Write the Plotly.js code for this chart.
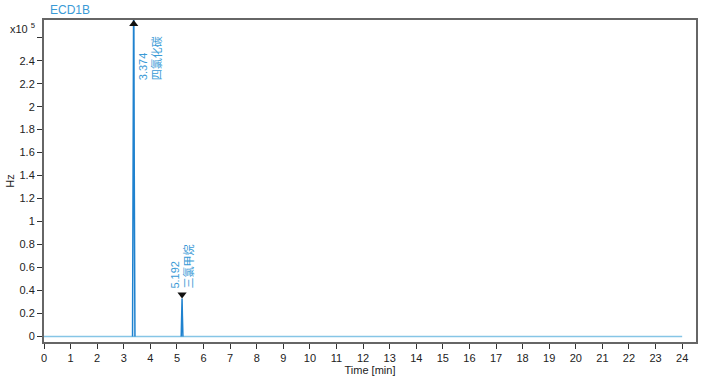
<!DOCTYPE html>
<html>
<head>
<meta charset="utf-8">
<script src="https://cdn.plot.ly/plotly-3.0.1.min.js"></script>
<style>html,body{margin:0;padding:0;background:#fff;}#chart{width:705px;height:379px;}</style>
</head>
<body>
<div id="chart"></div>
<script>
// Chromatogram samples (time in min, signal in units of 1e5 Hz)
const baseTime = [0, 3.30, 3.45, 5.15, 5.24, 24];
const baseSignal = [0, 0, 0, 0, 0, 0];
const peak1Time = [3.33, 3.355, 3.374, 3.395, 3.42];
const peak1Signal = [0, 1.4, 3.2, 1.4, 0];
const peak2Time = [5.16, 5.18, 5.192, 5.205, 5.225];
const peak2Signal = [0, 0.18, 0.33, 0.18, 0];
const peakRT = [3.374, 5.192];
const peakNames = ["四氯化碳", "三氯甲烷"];
const markerY = [2.72, 0.365];
const yTickVals = [0,0.2,0.4,0.6,0.8,1,1.2,1.4,1.6,1.8,2,2.2,2.4,2.6];
const yTickText = ["0","0.2","0.4","0.6","0.8","1","1.2","1.4","1.6","1.8","2","2.2","2.4",""];
const xTickVals = Array.from({length:25},(_, i)=>i);

const lightBlue = '#86c5e6';
const darkBlue = '#1f82cf';
const labelBlue = '#3a9ad6';

const traces = [
  {x: baseTime, y: baseSignal, mode:'lines', line:{color:lightBlue, width:1.5}, hoverinfo:'skip'},
  {x: peak1Time, y: peak1Signal, mode:'lines', line:{color:darkBlue, width:1.5}},
  {x: peak2Time, y: peak2Signal, mode:'lines', line:{color:darkBlue, width:1.5}},
  {x: [peakRT[0]], y: [markerY[0]], mode:'markers', cliponaxis:false,
   marker:{symbol:'triangle-up', size:8, color:'#111'}},
  {x: [peakRT[1]], y: [markerY[1]], mode:'markers', cliponaxis:false,
   marker:{symbol:'triangle-down', size:8, color:'#111'}}
];

const font = {family:'"Liberation Sans", Arial, sans-serif', size:11, color:'#222'};
const annFont = {family:'"Liberation Sans", "Noto Sans CJK SC", sans-serif', size:11, color:labelBlue};

const layout = {
  width:705, height:379,
  margin:{l:44, r:9, t:20, b:37},
  paper_bgcolor:'#fff', plot_bgcolor:'#fff',
  showlegend:false,
  font: font,
  xaxis:{
    range:[0, 24.52], tickvals:xTickVals, ticks:'outside', ticklen:5, tickwidth:1, tickcolor:'#333',
    showgrid:false, zeroline:false, showline:true, linecolor:'#666', linewidth:2, mirror:true,
    tickfont:font, title:{text:'Time [min]', font:font, standoff:0}
  },
  yaxis:{
    range:[-0.048, 2.754], tickvals:yTickVals, ticktext:yTickText, ticks:'outside', ticklen:5, tickwidth:1, tickcolor:'#333',
    showgrid:false, zeroline:false, showline:true, linecolor:'#666', linewidth:2, mirror:true,
    tickfont:font, title:{text:'Hz', font:font, standoff:3}
  },
  annotations:[
    {xref:'paper', yref:'paper', x:0.006, y:1.0, xanchor:'left', yanchor:'bottom', yshift:1,
     text:'ECD1B', showarrow:false, font:{family:font.family, size:12, color:labelBlue}},
    {xref:'paper', yref:'paper', x:-0.01, y:0.975, xanchor:'right', yanchor:'middle',
     text:'x10 <sup>5</sup>', showarrow:false, font:font},
    {xref:'x', yref:'y', x:peakRT[0], y:2.21, xanchor:'left', yanchor:'bottom', xshift:1,
     text: peakRT[0].toFixed(3) + '<br>' + peakNames[0], textangle:-90, align:'left',
     showarrow:false, font:annFont},
    {xref:'x', yref:'y', x:peakRT[1], y:0.4, xanchor:'center', yanchor:'bottom', xshift:-1,
     text: peakRT[1].toFixed(3) + '<br>' + peakNames[1], textangle:-90, align:'left',
     showarrow:false, font:annFont}
  ]
};

Plotly.newPlot('chart', traces, layout, {displayModeBar:false, staticPlot:true});
</script>
</body>
</html>
